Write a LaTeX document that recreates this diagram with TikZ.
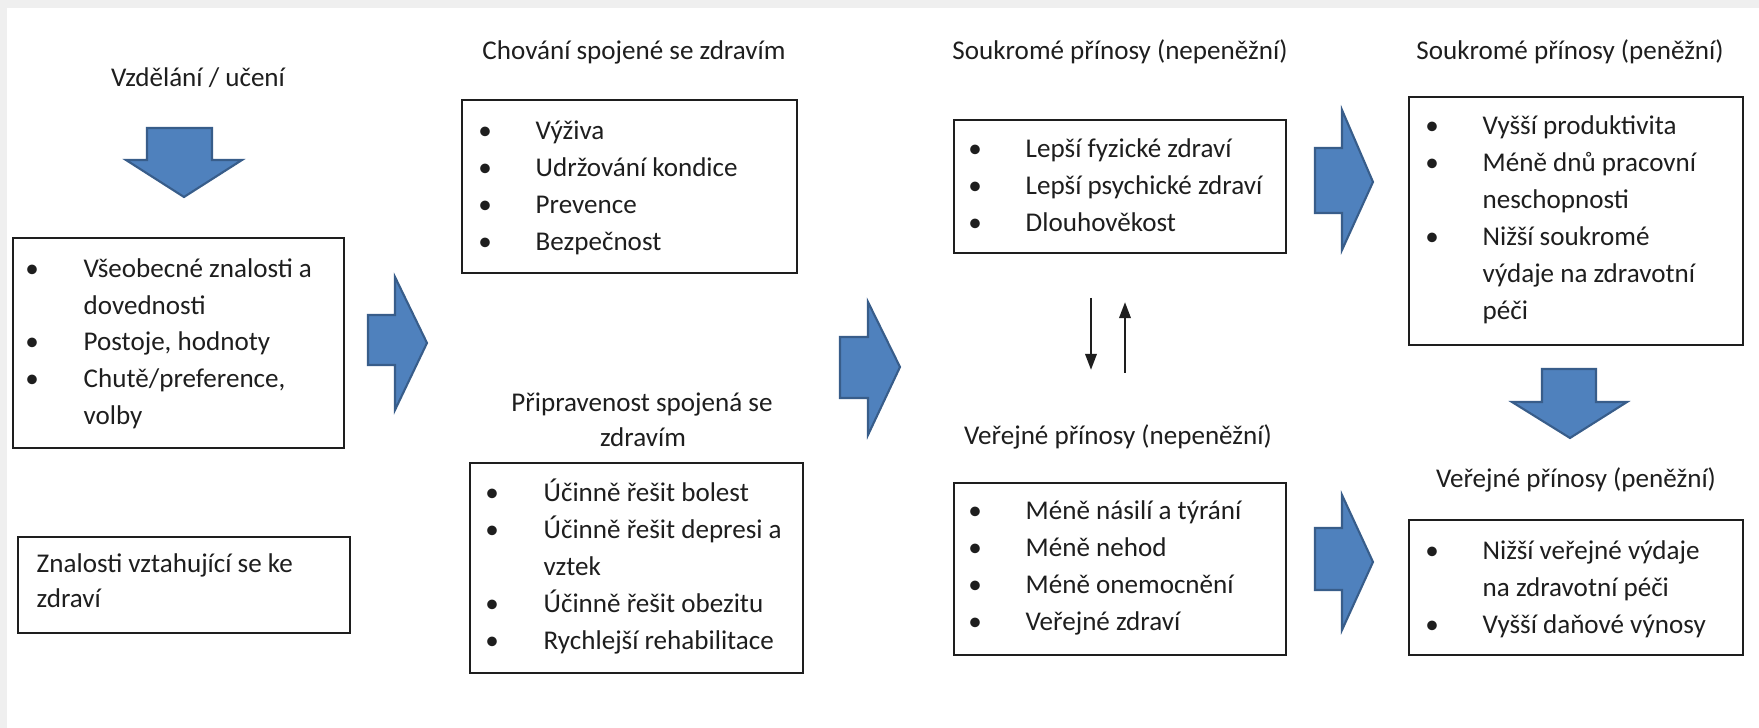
\documentclass[tikz,border=0pt]{standalone}
\usepackage{fontspec}
\setmainfont{Carlito}
\usetikzlibrary{arrows.meta,fit}
\definecolor{arrfill}{HTML}{4F81BD}
\definecolor{arrline}{HTML}{385D8A}
\definecolor{txt}{HTML}{1E1E1E}
\definecolor{edgegray}{HTML}{EFEFEF}
\newcommand{\bitem}[5]{\node[bul] (#1b) at (#2,#4) {•}; \node[itemtext] (#1) at (#3,#4) {#5};}
\newcommand{\tline}[4]{\node[itemtext] (#1) at (#2,#3) {#4};}
\begin{document}
\begin{tikzpicture}[x=0.01cm,y=-0.01cm,
  every node/.style={font=\fontsize{7.7}{10.5}\selectfont, text=txt, inner sep=0pt},
  box/.style={draw=txt, line width=0.7pt, inner sep=0pt},
  blockarrow/.style={fill=arrfill, draw=arrline, line width=0.6pt, line join=miter},
  thinarrow/.style={draw=txt, line width=0.8pt, -{Triangle[width=3.2pt,length=4.6pt]}},
  title/.style={anchor=base},
  bul/.style={anchor=base},
  itemtext/.style={anchor=base west}]
\useasboundingbox (0,0) rectangle (1759,728);
\fill[edgegray] (0,0) rectangle (1759,728);
\fill[white] (7,8) rectangle (1759,728);

% titles
\node[title] (t1) at (198,87) {Vzdělání / učení};
\node[title] (t2) at (634,60) {Chování spojené se zdravím};
\node[title] (t3a) at (642,412) {Připravenost spojená se};
\node[title] (t3b) at (643,447) {zdravím};
\node[title] (t4) at (1120,60) {Soukromé přínosy (nepeněžní)};
\node[title] (t5) at (1118,445) {Veřejné přínosy (nepeněžní)};
\node[title] (t6) at (1570,60) {Soukromé přínosy (peněžní)};
\node[title] (t7) at (1576,488) {Veřejné přínosy (peněžní)};

% boxes
\node[box, fit={(13,238) (344,448)}] (b1) {};
\node[box, fit={(18,537) (350,633)}] (bk) {};
\node[box, fit={(462,100) (797,273)}] (b2) {};
\node[box, fit={(470,463) (803,673)}] (b3) {};
\node[box, fit={(954,120) (1286,253)}] (b4) {};
\node[box, fit={(954,483) (1286,655)}] (b5) {};
\node[box, fit={(1409,97) (1743,345)}] (b6) {};
\node[box, fit={(1409,520) (1743,655)}] (b7) {};

% box 1
\bitem{a1}{32}{83}{278}{Všeobecné znalosti a}
\tline{a1x}{83}{315}{dovednosti}
\bitem{a2}{32}{83}{351}{Postoje, hodnoty}
\bitem{a3}{32}{83}{388}{Chutě/preference,}
\tline{a3x}{83}{425}{volby}
% box K
\tline{k1}{36}{573}{Znalosti vztahující se ke}
\tline{k2}{36}{608}{zdraví}
% box 2
\bitem{c1}{485}{535}{140}{Výživa}
\bitem{c2}{485}{535}{177}{Udržování kondice}
\bitem{c3}{485}{535}{214}{Prevence}
\bitem{c4}{485}{535}{251}{Bezpečnost}
% box 3
\bitem{p1}{492}{543}{502}{Účinně řešit bolest}
\bitem{p2}{492}{543}{539}{Účinně řešit depresi a}
\tline{p2x}{543}{576}{vztek}
\bitem{p3}{492}{543}{613}{Účinně řešit obezitu}
\bitem{p4}{492}{543}{650}{Rychlejší rehabilitace}
% box 4
\bitem{s1}{975}{1025}{158}{Lepší fyzické zdraví}
\bitem{s2}{975}{1025}{195}{Lepší psychické zdraví}
\bitem{s3}{975}{1025}{232}{Dlouhověkost}
% box 5
\bitem{v1}{975}{1025}{520}{Méně násilí a týrání}
\bitem{v2}{975}{1025}{557}{Méně nehod}
\bitem{v3}{975}{1025}{594}{Méně onemocnění}
\bitem{v4}{975}{1025}{631}{Veřejné zdraví}
% box 6
\bitem{m1}{1432}{1482}{135}{Vyšší produktivita}
\bitem{m2}{1432}{1482}{172}{Méně dnů pracovní}
\tline{m2x}{1482}{209}{neschopnosti}
\bitem{m3}{1432}{1482}{246}{Nižší soukromé}
\tline{m3x}{1482}{283}{výdaje na zdravotní}
\tline{m3y}{1482}{320}{péči}
% box 7
\bitem{w1}{1432}{1482}{560}{Nižší veřejné výdaje}
\tline{w1x}{1482}{597}{na zdravotní péči}
\bitem{w2}{1432}{1482}{634}{Vyšší daňové výnosy}

% block arrows
\draw[blockarrow] (147,128) -- (212,128) -- (212,160) -- (242,160) -- (184,197) -- (126,160) -- (147,160) -- cycle;
\draw[blockarrow] (368,315) -- (395,315) -- (395,277) -- (427,343) -- (395,410) -- (395,365) -- (368,365) -- cycle;
\draw[blockarrow] (840,337) -- (868,337) -- (868,302) -- (900,367) -- (868,435) -- (868,398) -- (840,398) -- cycle;
\draw[blockarrow] (1315,148) -- (1342,148) -- (1342,110) -- (1373,182) -- (1342,250) -- (1342,213) -- (1315,213) -- cycle;
\draw[blockarrow] (1315,528) -- (1342,528) -- (1342,495) -- (1373,562) -- (1342,630) -- (1342,590) -- (1315,590) -- cycle;
\draw[blockarrow] (1542,369) -- (1596,369) -- (1596,402) -- (1627,402) -- (1570,438) -- (1512,402) -- (1542,402) -- cycle;

% small arrows
\coordinate (d1) at (1091,298);
\coordinate (d2) at (1091,370);
\coordinate (u1) at (1125,373);
\coordinate (u2) at (1125,302);
\draw[thinarrow] (d1) -- (d2);
\draw[thinarrow] (u1) -- (u2);
\end{tikzpicture}
\end{document}
